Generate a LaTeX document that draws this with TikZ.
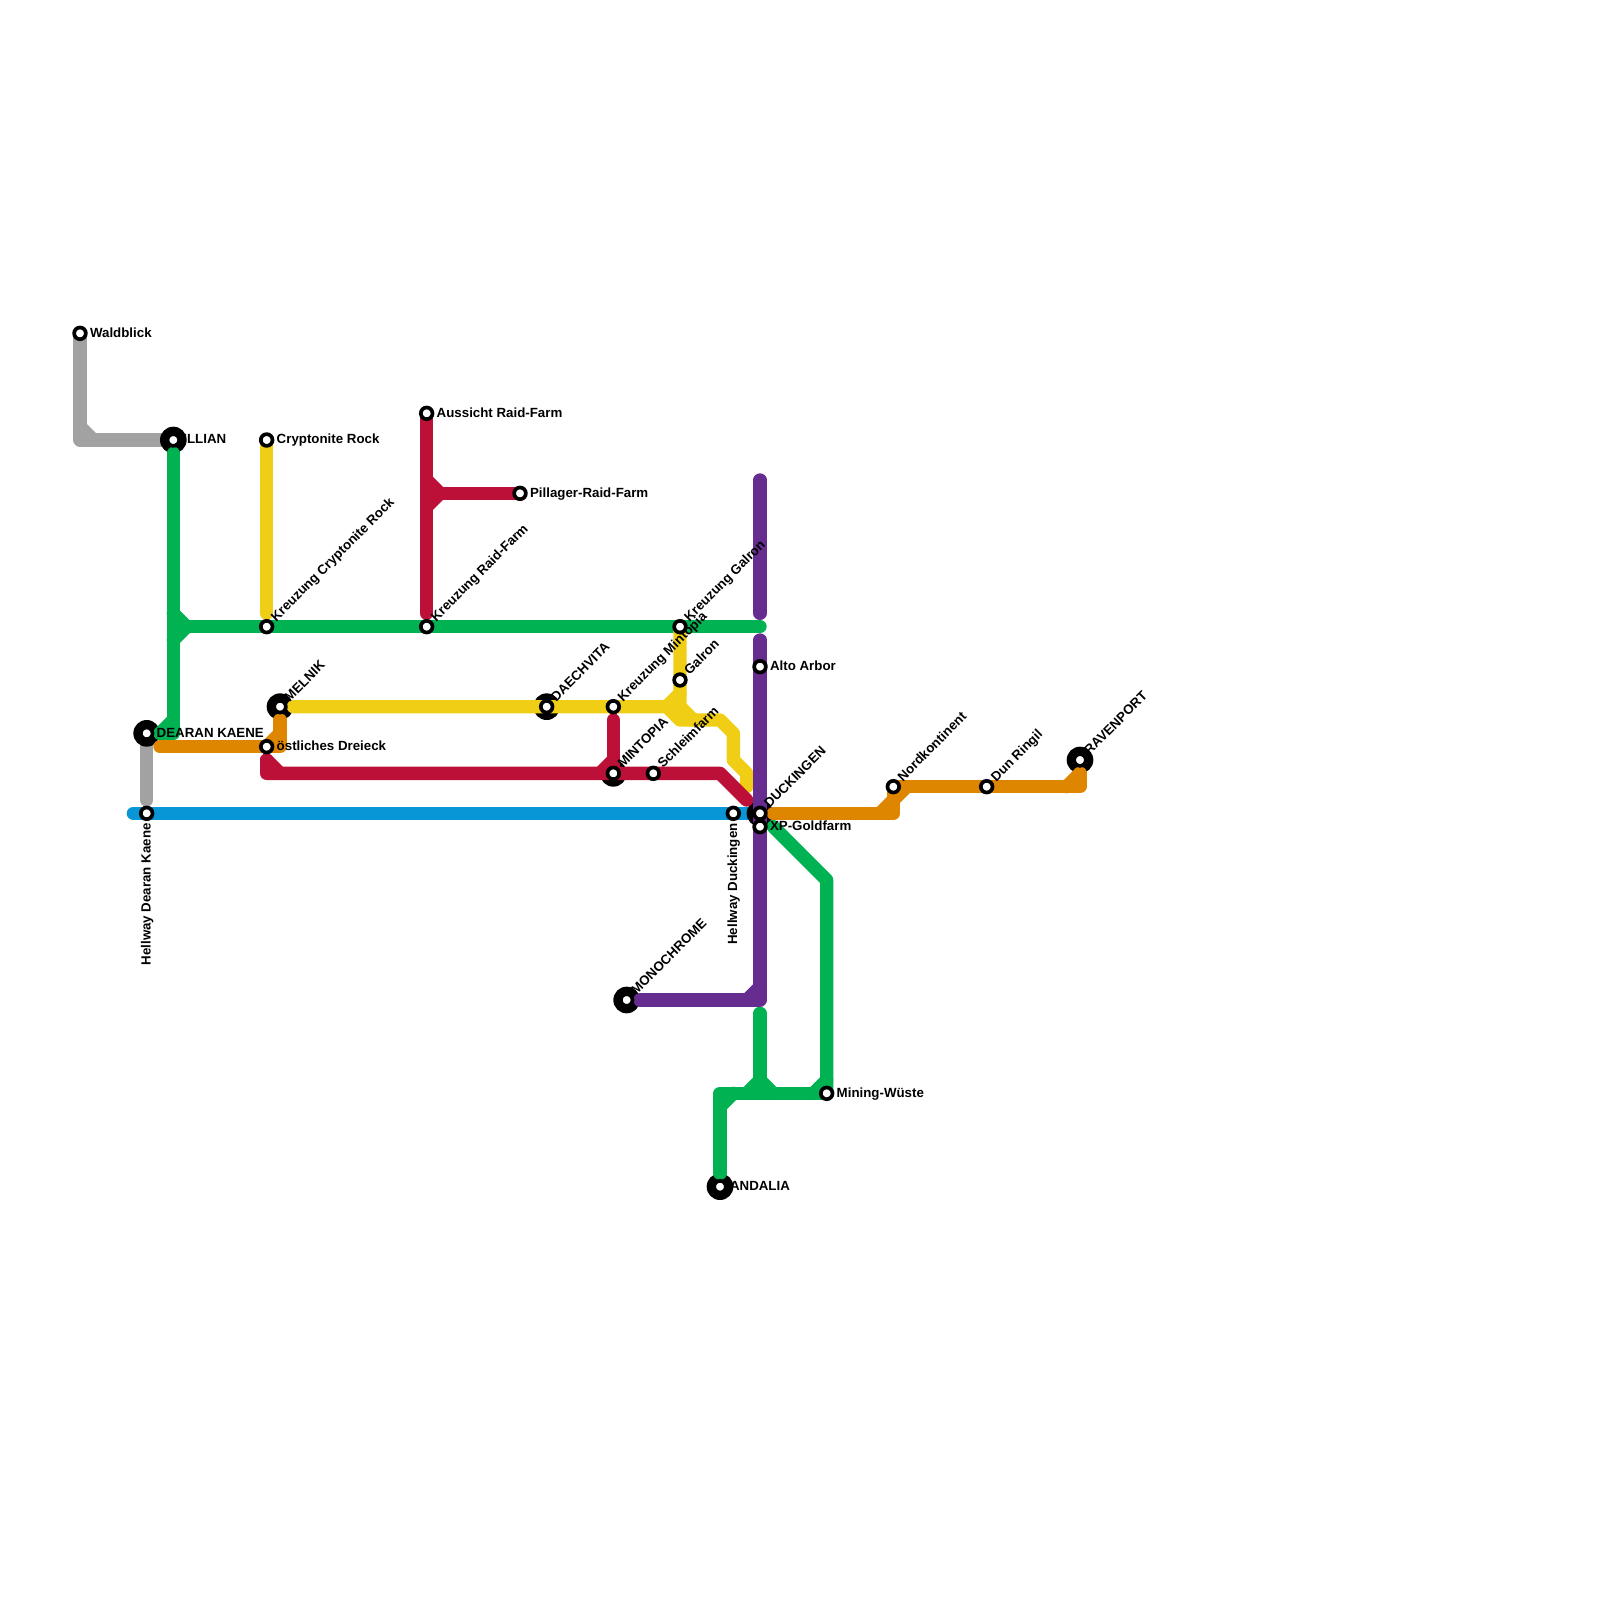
\documentclass[tikz,border=0pt]{standalone}
\usepackage{fontspec}
\setmainfont{Liberation Sans}
\usepackage{tikz}
\usetikzlibrary{positioning, calc}

\definecolor{metrogray}{HTML}{A2A2A2}
\definecolor{metrogreen}{HTML}{00B251}
\definecolor{metroyellow}{HTML}{F0CE15}
\definecolor{metrored}{HTML}{BD1038}
\definecolor{metroorange}{HTML}{DF8600}
\definecolor{metroblue}{HTML}{0896D7}
\definecolor{metropurple}{HTML}{662C90}

\begin{document}
\begin{tikzpicture}[
        x=0.4cm,
        y=-0.4cm,
        metro/.style={
            line width=11.38pt,
            line cap=round,
            line join=round
        },
        grayline/.style={metro, draw=metrogray},
        greenline/.style={metro, draw=metrogreen},
        yellowline/.style={metro, draw=metroyellow},
        redline/.style={metro, draw=metrored},
        orangeline/.style={metro, draw=metroorange},
        blueline/.style={metro, draw=metroblue},
        purpleline/.style={metro, draw=metropurple},
        hub/.style={
            circle,
            fill=black,
            inner sep=0pt,
            outer sep=0pt,
            minimum size=0.8cm
        },
        stop/.style={
            circle,
            draw=black,
            fill=white,
            line width=3.15pt,
            inner sep=0pt,
            outer sep=0pt,
            minimum size=0.351cm
        },
        lbl/.style={
            font=\fontsize{11.35}{13}\selectfont\bfseries,
            inner sep=0pt,
            text=black
        },
        lblright/.style={lbl, anchor=base west, xshift=0.295cm, yshift=-0.115cm},
        lblup/.style={lbl, anchor=base west, xshift=0.285cm, yshift=0.132cm, rotate=45},
        lbldown/.style={lbl, anchor=base east, xshift=0.115cm, yshift=-0.295cm, rotate=90}
    ]

        \useasboundingbox (0,0) rectangle (120,120);

        % Station positions
        \coordinate (waldblick) at (6,25);
        \coordinate (illian) at (13,33);
        \coordinate (cryptonite) at (20,33);
        \coordinate (aussicht) at (32,31);
        \coordinate (pillager) at (39,37);
        \coordinate (kreuzcrypt) at (20,47);
        \coordinate (kreuzraid) at (32,47);
        \coordinate (kreuzgalron) at (51,47);
        \coordinate (galron) at (51,51);
        \coordinate (altoarbor) at (57,50);
        \coordinate (melnik) at (21,53);
        \coordinate (daechvita) at (41,53);
        \coordinate (kreuzmint) at (46,53);
        \coordinate (dearan) at (11,55);
        \coordinate (dreieck) at (20,56);
        \coordinate (mintopia) at (46,58);
        \coordinate (schleim) at (49,58);
        \coordinate (hwdearan) at (11,61);
        \coordinate (hwducking) at (55,61);
        \coordinate (duckingen) at (57,61);
        \coordinate (xpgold) at (57,62);
        \coordinate (nordkont) at (67,59);
        \coordinate (dunringil) at (74,59);
        \coordinate (ravenport) at (81,57);
        \coordinate (monochrome) at (47,75);
        \coordinate (miningw) at (62,82);
        \coordinate (andalia) at (54,89);

        % Gray line
        \coordinate (grayend) at (11,60);
        \draw[grayline] (waldblick) |- (illian);
        \draw[grayline] (waldblick |- 0,32) -- ++(1,1);
        \draw[grayline] (dearan) -- (grayend);

        % Blue line
        \coordinate (blueleft) at (10,61);
        \coordinate (blueright) at (56,61);
        \draw[blueline] (blueleft) -- (hwdearan) -- (hwducking) -- (blueright);

        % Large discs
        \node[hub] (illianhub) at (illian) {};
        \node[hub] (melnikhub) at (melnik) {};
        \node[hub] (daechvitahub) at (daechvita) {};
        \node[hub] (dearanhub) at (dearan) {};
        \node[hub] (mintopiahub) at (mintopia) {};
        \node[hub] (duckingenhub) at (duckingen) {};
        \node[hub] (ravenporthub) at (ravenport) {};
        \node[hub] (monochromehub) at (monochrome) {};
        \node[hub] (andaliahub) at (andalia) {};

        % Green line, top branch
        \coordinate (greentop) at (13,34);
        \coordinate (greenfoot) at (12,55);
        \coordinate (greenjoint) at (14,47);
        \coordinate (greenend) at (57,47);
        \draw[greenline] (greentop) |- (greenfoot);
        \draw[greenline] (greenfoot) -- ++(1,-1);
        \draw[greenline] (greenjoint) -- ++(-1,-1);
        \draw[greenline] (greenjoint) -- ++(-1,1);
        \draw[greenline] (greenjoint) -- (kreuzcrypt) -- (kreuzraid) -- (kreuzgalron) -- (greenend);

        % Green line, bottom branch
        \coordinate (greendiagtop) at (58,62);
        \coordinate (greendiagend) at (62,66);
        \coordinate (greenstub) at (57,76);
        \coordinate (greenstubfoot) at (57,82);
        \coordinate (greencorner) at (54,82);
        \coordinate (greenlow) at (54,88);
        \draw[greenline] (greendiagtop) -- (greendiagend) -- (miningw);
        \draw[greenline] (greenstub) -- (greenstubfoot);
        \draw[greenline] (greenlow) -- (greencorner) -- (miningw);
        \draw[greenline] (56,82) -- ++(1,-1) -- ++(1,1);
        \draw[greenline] (61,82) -- ++(1,-1);
        \draw[greenline] (55,82) -- ++(-1,1);

        % Yellow lines
        \coordinate (crypttail) at (20,46);
        \coordinate (yellowstart) at (22,53);
        \coordinate (yellowfork) at (50,53);
        \coordinate (yellowsplit) at (51,53);
        \coordinate (yellowlow) at (51,54);
        \coordinate (yellowbend) at (54,54);
        \coordinate (yellowdiag) at (55,55);
        \coordinate (yellowdown) at (55,57);
        \coordinate (yellowstep) at (56,58);
        \coordinate (yellowend) at (56,59);
        \draw[yellowline] (cryptonite) -- (crypttail);
        \draw[yellowline] (yellowstart) -- (daechvita) -- (kreuzmint) -- (yellowfork) -- (yellowlow) -- (yellowbend) -- (yellowdiag) -- (yellowdown) -- (yellowstep) -- (yellowend);
        \draw[yellowline] (kreuzgalron) -- (galron) -- (yellowsplit) -- ++(1,1);
        \draw[yellowline] (yellowfork) -- ++(1,-1);

        % Red lines
        \coordinate (raidtail) at (32,46);
        \coordinate (raidjoint) at (33,37);
        \coordinate (redtop) at (20,57);
        \coordinate (redcorner) at (20,58);
        \coordinate (redbend) at (54,58);
        \coordinate (redend) at (56,60);
        \coordinate (minttop) at (46,54);
        \draw[redline] (aussicht) -- (raidtail);
        \draw[redline] (raidjoint) -- (pillager);
        \draw[redline] (raidjoint) -- ++(-1,-1);
        \draw[redline] (raidjoint) -- ++(-1,1);
        \draw[redline] (redtop) -- (redcorner) -- (mintopia) -- (schleim) -- (redbend) -- (redend);
        \draw[redline] (redtop) -- ++(1,1);
        \draw[redline] (minttop) -- (mintopia);
        \draw[redline] (45,58) -- ++(1,-1);

        % Orange line
        \coordinate (orangeleft) at (12,56);
        \coordinate (orangecorner) at (21,56);
        \coordinate (orangetop) at (21,54);
        \coordinate (orangestart) at (58,61);
        \coordinate (orangelow) at (67,61);
        \coordinate (orangeright) at (81,59);
        \coordinate (orangeup) at (81,58);
        \draw[orangeline] (orangeleft) -- (dreieck) -- (orangecorner) -- (orangetop);
        \draw[orangeline] (dreieck) -- ++(1,-1);
        \draw[orangeline] (orangestart) -- (orangelow) -- (nordkont) -- (dunringil) -- (orangeright) -- (orangeup);
        \draw[orangeline] (66,61) -- ++(1,-1) -- ++(1,-1);
        \draw[orangeline] (80,59) -- ++(1,-1);

        % Purple lines
        \coordinate (purpletop) at (57,36);
        \coordinate (purplegap) at (57,46);
        \coordinate (purplenext) at (57,48);
        \coordinate (purplecorner) at (57,75);
        \coordinate (purpleleft) at (48,75);
        \draw[purpleline] (purpletop) -- (purplegap);
        \draw[purpleline] (purplenext) -- (altoarbor) -- (duckingen) -- (xpgold) -- (purplecorner) -- (purpleleft);
        \draw[purpleline] (56,75) -- ++(1,-1);

        % Station rings
        \node[stop] (waldblickstop) at (waldblick) {};
        \node[stop] (illianstop) at (illian) {};
        \node[stop] (cryptonitestop) at (cryptonite) {};
        \node[stop] (aussichtstop) at (aussicht) {};
        \node[stop] (pillagerstop) at (pillager) {};
        \node[stop] (kreuzcryptstop) at (kreuzcrypt) {};
        \node[stop] (kreuzraidstop) at (kreuzraid) {};
        \node[stop] (kreuzgalronstop) at (kreuzgalron) {};
        \node[stop] (galronstop) at (galron) {};
        \node[stop] (altoarborstop) at (altoarbor) {};
        \node[stop] (melnikstop) at (melnik) {};
        \node[stop] (daechvitastop) at (daechvita) {};
        \node[stop] (kreuzmintstop) at (kreuzmint) {};
        \node[stop] (dearanstop) at (dearan) {};
        \node[stop] (dreieckstop) at (dreieck) {};
        \node[stop] (mintopiastop) at (mintopia) {};
        \node[stop] (schleimstop) at (schleim) {};
        \node[stop] (hwdearanstop) at (hwdearan) {};
        \node[stop] (hwduckingstop) at (hwducking) {};
        \node[stop] (duckingenstop) at (duckingen) {};
        \node[stop] (xpgoldstop) at (xpgold) {};
        \node[stop] (nordkontstop) at (nordkont) {};
        \node[stop] (dunringilstop) at (dunringil) {};
        \node[stop] (ravenportstop) at (ravenport) {};
        \node[stop] (monochromestop) at (monochrome) {};
        \node[stop] (miningwstop) at (miningw) {};
        \node[stop] (andaliastop) at (andalia) {};

        % Labels
        \node[lblright] (waldblicklabel) at (waldblick) {Waldblick};
        \node[lblright] (illianlabel) at (illian) {ILLIAN};
        \node[lblright] (cryptonitelabel) at (cryptonite) {Cryptonite Rock};
        \node[lblright] (aussichtlabel) at (aussicht) {Aussicht Raid-Farm};
        \node[lblright] (pillagerlabel) at (pillager) {Pillager-Raid-Farm};
        \node[lblright] (altoarborlabel) at (altoarbor) {Alto Arbor};
        \node[lblright] (dearanlabel) at (dearan) {DEARAN KAENE};
        \node[lblright] (dreiecklabel) at (dreieck) {östliches Dreieck};
        \node[lblright] (xpgoldlabel) at (xpgold) {XP-Goldfarm};
        \node[lblright] (miningwlabel) at (miningw) {Mining-Wüste};
        \node[lblright] (andalialabel) at (andalia) {ANDALIA};
        \node[lblup] (kreuzcryptlabel) at (kreuzcrypt) {Kreuzung Cryptonite Rock};
        \node[lblup] (kreuzraidlabel) at (kreuzraid) {Kreuzung Raid-Farm};
        \node[lblup] (kreuzgalronlabel) at (kreuzgalron) {Kreuzung Galron};
        \node[lblup] (galronlabel) at (galron) {Galron};
        \node[lblup] (melniklabel) at (melnik) {MELNIK};
        \node[lblup] (daechvitalabel) at (daechvita) {DAECHVITA};
        \node[lblup] (kreuzmintlabel) at (kreuzmint) {Kreuzung Mintopia};
        \node[lblup] (mintopialabel) at (mintopia) {MINTOPIA};
        \node[lblup] (schleimlabel) at (schleim) {Schleimfarm};
        \node[lblup] (duckingenlabel) at (duckingen) {DUCKINGEN};
        \node[lblup] (nordkontlabel) at (nordkont) {Nordkontinent};
        \node[lblup] (dunringillabel) at (dunringil) {Dun Ringil};
        \node[lblup] (ravenportlabel) at (ravenport) {RAVENPORT};
        \node[lblup] (monochromelabel) at (monochrome) {MONOCHROME};
        \node[lbldown] (hwdearanlabel) at (hwdearan) {Hellway Dearan Kaene};
        \node[lbldown] (hwduckinglabel) at (hwducking) {Hellway Duckingen};

    \end{tikzpicture}
\end{document}
